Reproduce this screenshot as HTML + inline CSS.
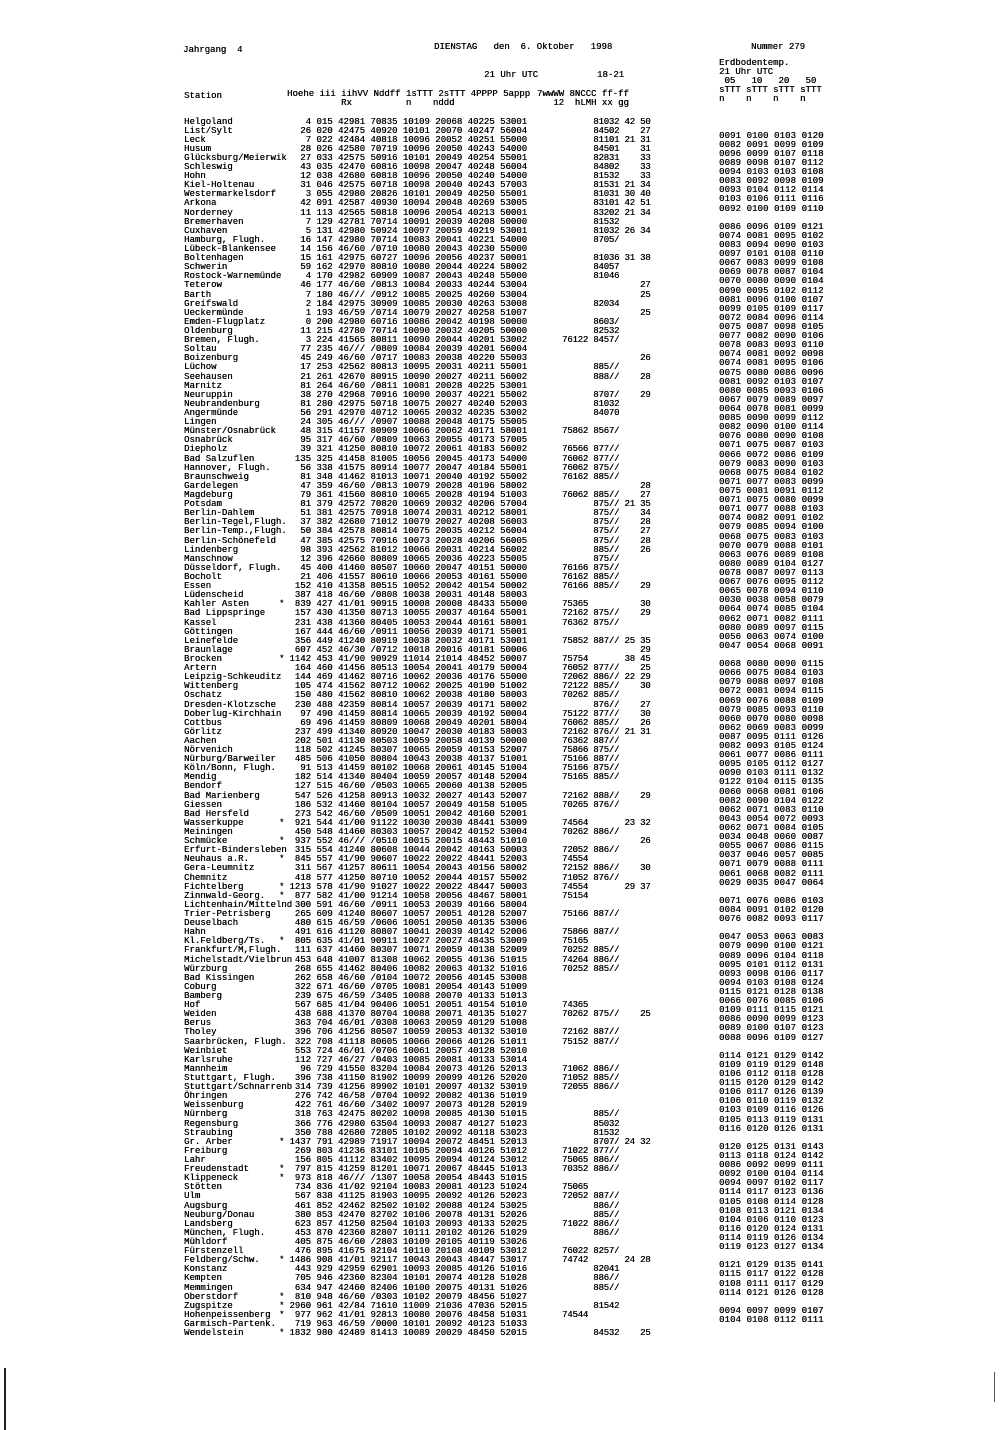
<!DOCTYPE html>
<html><head><meta charset="utf-8"><style>
html,body{margin:0;padding:0;background:#fff}
body{width:1000px;height:1430px;position:relative;overflow:hidden;font-family:"Liberation Mono",monospace;font-size:9px;color:#000;text-shadow:0.3px 0 0 #000}
.t{position:absolute;white-space:pre;line-height:9px}
#rows{position:absolute;left:0;top:117.5px;width:1000px}
.r{position:relative;height:9.12px;white-space:pre;line-height:9.12px}
.r span{position:absolute;top:0}
.s{left:184px}
.k{left:279px}
.n{right:473px}
.m{left:562px;letter-spacing:-0.2px}
.e{left:719px;top:-4px!important;letter-spacing:0.1px}
</style></head><body>
<div class="t" style="left:183px;top:46px">Jahrgang  4</div>
<div class="t" style="left:434px;top:43px">DIENSTAG   den  6. Oktober   1998</div>
<div class="t" style="left:751px;top:43px">Nummer 279</div>
<div class="t" style="left:719px;top:59px">Erdbodentemp.
21 Uhr UTC
 05   10   20   50
sTTT sTTT sTTT sTTT
n    n    n    n</div>
<div class="t" style="left:484px;top:71px">21 Uhr UTC</div>
<div class="t" style="left:597px;top:71px">18-21</div>
<div class="t" style="left:184px;top:92px">Station</div>
<div class="t" style="left:287px;top:90px">Hoehe iii iihVV Nddff 1sTTT 2sTTT 4PPPP 5appp
          Rx          n    nddd</div>
<div class="t" style="left:537px;top:90px">7wwWW 8NCCC ff-ff
   12  hLMH xx gg</div>
<div style="position:absolute;left:4px;top:1368px;width:2px;height:62px;background:#222"></div>
<div style="position:absolute;left:994px;top:1372px;width:1px;height:30px;background:#555"></div>
<div id="rows">
<div class="r"><span class="s">Helgoland</span><span class="n">4 015 42981 70835 10109 20068 40225 53001</span><span class="m">      81032 42 50</span></div>
<div class="r"><span class="s">List/Sylt</span><span class="n">26 020 42475 40920 10101 20070 40247 56004</span><span class="m">      84502    27</span></div>
<div class="r"><span class="s">Leck</span><span class="n">7 022 42484 40818 10096 20052 40251 55000</span><span class="m">      81101 21 31</span><span class="e">0091 0100 0103 0120</span></div>
<div class="r"><span class="s">Husum</span><span class="n">28 026 42580 70719 10096 20050 40243 54000</span><span class="m">      84501    31</span><span class="e">0082 0091 0099 0109</span></div>
<div class="r"><span class="s">Glücksburg/Meierwik</span><span class="n">27 033 42575 50916 10101 20049 40254 55001</span><span class="m">      82831    33</span><span class="e">0096 0099 0107 0118</span></div>
<div class="r"><span class="s">Schleswig</span><span class="n">43 035 42470 60816 10098 20047 40248 56004</span><span class="m">      84802    33</span><span class="e">0089 0098 0107 0112</span></div>
<div class="r"><span class="s">Hohn</span><span class="n">12 038 42680 60818 10096 20050 40240 54000</span><span class="m">      81532    33</span><span class="e">0094 0103 0103 0108</span></div>
<div class="r"><span class="s">Kiel-Holtenau</span><span class="n">31 046 42575 60718 10098 20040 40243 57003</span><span class="m">      81531 21 34</span><span class="e">0083 0092 0098 0109</span></div>
<div class="r"><span class="s">Westermarkelsdorf</span><span class="n">3 055 42980 20826 10101 20049 40250 55001</span><span class="m">      81031 30 40</span><span class="e">0093 0104 0112 0114</span></div>
<div class="r"><span class="s">Arkona</span><span class="n">42 091 42587 40930 10094 20048 40269 53005</span><span class="m">      83101 42 51</span><span class="e">0103 0106 0111 0116</span></div>
<div class="r"><span class="s">Norderney</span><span class="n">11 113 42565 50818 10096 20054 40213 50001</span><span class="m">      83202 21 34</span><span class="e">0092 0100 0109 0110</span></div>
<div class="r"><span class="s">Bremerhaven</span><span class="n">7 129 42781 70714 10091 20039 40208 50000</span><span class="m">      81532</span></div>
<div class="r"><span class="s">Cuxhaven</span><span class="n">5 131 42980 50924 10097 20059 40219 53001</span><span class="m">      81032 26 34</span><span class="e">0086 0096 0109 0121</span></div>
<div class="r"><span class="s">Hamburg, Flugh.</span><span class="n">16 147 42980 70714 10083 20041 40221 54000</span><span class="m">      8705/</span><span class="e">0074 0081 0095 0102</span></div>
<div class="r"><span class="s">Lübeck-Blankensee</span><span class="n">14 156 46/60 /0710 10080 20043 40230 55000</span><span class="e">0083 0094 0090 0103</span></div>
<div class="r"><span class="s">Boltenhagen</span><span class="n">15 161 42975 60727 10096 20056 40237 50001</span><span class="m">      81036 31 38</span><span class="e">0097 0101 0108 0110</span></div>
<div class="r"><span class="s">Schwerin</span><span class="n">59 162 42970 80810 10080 20044 40224 58002</span><span class="m">      84057</span><span class="e">0067 0083 0099 0108</span></div>
<div class="r"><span class="s">Rostock-Warnemünde</span><span class="n">4 170 42982 60909 10087 20043 40248 55000</span><span class="m">      81046</span><span class="e">0069 0078 0087 0104</span></div>
<div class="r"><span class="s">Teterow</span><span class="n">46 177 46/60 /0813 10084 20033 40244 53004</span><span class="m">               27</span><span class="e">0070 0080 0090 0104</span></div>
<div class="r"><span class="s">Barth</span><span class="n">7 180 46/// /0912 10085 20025 40260 53004</span><span class="m">               25</span><span class="e">0090 0095 0102 0112</span></div>
<div class="r"><span class="s">Greifswald</span><span class="n">2 184 42975 30909 10085 20030 40263 53008</span><span class="m">      82034</span><span class="e">0081 0096 0100 0107</span></div>
<div class="r"><span class="s">Ueckermünde</span><span class="n">1 193 46/59 /0714 10079 20027 40258 51007</span><span class="m">               25</span><span class="e">0099 0105 0109 0117</span></div>
<div class="r"><span class="s">Emden-Flugplatz</span><span class="n">0 200 42980 60716 10086 20042 40198 50000</span><span class="m">      8603/</span><span class="e">0072 0084 0096 0114</span></div>
<div class="r"><span class="s">Oldenburg</span><span class="n">11 215 42780 70714 10090 20032 40205 50000</span><span class="m">      82532</span><span class="e">0075 0087 0098 0105</span></div>
<div class="r"><span class="s">Bremen, Flugh.</span><span class="n">3 224 41565 80811 10090 20044 40201 53002</span><span class="m">76122 8457/</span><span class="e">0077 0082 0090 0106</span></div>
<div class="r"><span class="s">Soltau</span><span class="n">77 235 46/// /0809 10084 20039 40201 56004</span><span class="e">0078 0083 0093 0110</span></div>
<div class="r"><span class="s">Boizenburg</span><span class="n">45 249 46/60 /0717 10083 20038 40220 55003</span><span class="m">               26</span><span class="e">0074 0081 0092 0098</span></div>
<div class="r"><span class="s">Lüchow</span><span class="n">17 253 42562 80813 10095 20031 40211 55001</span><span class="m">      885//</span><span class="e">0074 0081 0095 0106</span></div>
<div class="r"><span class="s">Seehausen</span><span class="n">21 261 42670 80915 10090 20027 40211 56002</span><span class="m">      888//    28</span><span class="e">0075 0080 0086 0096</span></div>
<div class="r"><span class="s">Marnitz</span><span class="n">81 264 46/60 /0811 10081 20028 40225 53001</span><span class="e">0081 0092 0103 0107</span></div>
<div class="r"><span class="s">Neuruppin</span><span class="n">38 270 42968 70916 10090 20037 40221 55002</span><span class="m">      8707/    29</span><span class="e">0080 0085 0093 0106</span></div>
<div class="r"><span class="s">Neubrandenburg</span><span class="n">81 280 42975 50718 10075 20027 40240 52003</span><span class="m">      81032</span><span class="e">0067 0079 0089 0097</span></div>
<div class="r"><span class="s">Angermünde</span><span class="n">56 291 42970 40712 10065 20032 40235 53002</span><span class="m">      84070</span><span class="e">0064 0078 0081 0099</span></div>
<div class="r"><span class="s">Lingen</span><span class="n">24 305 46/// /0907 10088 20048 40175 55005</span><span class="e">0085 0090 0099 0112</span></div>
<div class="r"><span class="s">Münster/Osnabrück</span><span class="n">48 315 41157 80909 10066 20062 40171 58001</span><span class="m">75862 8567/</span><span class="e">0082 0090 0100 0114</span></div>
<div class="r"><span class="s">Osnabrück</span><span class="n">95 317 46/60 /0809 10063 20055 40173 57005</span><span class="e">0076 0080 0090 0108</span></div>
<div class="r"><span class="s">Diepholz</span><span class="n">39 321 41250 80810 10072 20061 40183 56002</span><span class="m">76566 877//</span><span class="e">0071 0075 0087 0103</span></div>
<div class="r"><span class="s">Bad Salzuflen</span><span class="n">135 325 41458 81005 10056 20045 40173 54000</span><span class="m">76062 877//</span><span class="e">0066 0072 0086 0109</span></div>
<div class="r"><span class="s">Hannover, Flugh.</span><span class="n">56 338 41575 80914 10077 20047 40184 55001</span><span class="m">76062 875//</span><span class="e">0079 0083 0090 0103</span></div>
<div class="r"><span class="s">Braunschweig</span><span class="n">81 348 41462 81013 10071 20040 40192 55002</span><span class="m">76162 885//</span><span class="e">0068 0075 0084 0102</span></div>
<div class="r"><span class="s">Gardelegen</span><span class="n">47 359 46/60 /0813 10079 20028 40196 58002</span><span class="m">               28</span><span class="e">0071 0077 0083 0099</span></div>
<div class="r"><span class="s">Magdeburg</span><span class="n">79 361 41560 80810 10065 20028 40194 51003</span><span class="m">76062 885//    27</span><span class="e">0075 0081 0091 0112</span></div>
<div class="r"><span class="s">Potsdam</span><span class="n">81 379 42572 70820 10069 20032 40206 57004</span><span class="m">      875// 21 35</span><span class="e">0071 0075 0080 0099</span></div>
<div class="r"><span class="s">Berlin-Dahlem</span><span class="n">51 381 42575 70918 10074 20031 40212 58001</span><span class="m">      875//    34</span><span class="e">0071 0077 0088 0103</span></div>
<div class="r"><span class="s">Berlin-Tegel,Flugh.</span><span class="n">37 382 42680 71012 10079 20027 40208 56003</span><span class="m">      875//    28</span><span class="e">0074 0082 0091 0102</span></div>
<div class="r"><span class="s">Berlin-Temp.,Flugh.</span><span class="n">50 384 42578 80814 10075 20035 40212 56004</span><span class="m">      875//    27</span><span class="e">0079 0085 0094 0100</span></div>
<div class="r"><span class="s">Berlin-Schönefeld</span><span class="n">47 385 42575 70916 10073 20028 40206 56005</span><span class="m">      875//    28</span><span class="e">0068 0075 0083 0103</span></div>
<div class="r"><span class="s">Lindenberg</span><span class="n">98 393 42562 81012 10066 20031 40214 56002</span><span class="m">      885//    26</span><span class="e">0070 0079 0088 0101</span></div>
<div class="r"><span class="s">Manschnow</span><span class="n">12 396 42660 80809 10065 20036 40223 55005</span><span class="m">      875//</span><span class="e">0063 0076 0089 0108</span></div>
<div class="r"><span class="s">Düsseldorf, Flugh.</span><span class="n">45 400 41460 80507 10060 20047 40151 50000</span><span class="m">76166 875//</span><span class="e">0080 0089 0104 0127</span></div>
<div class="r"><span class="s">Bocholt</span><span class="n">21 406 41557 80610 10066 20053 40161 55000</span><span class="m">76162 885//</span><span class="e">0078 0087 0097 0113</span></div>
<div class="r"><span class="s">Essen</span><span class="n">152 410 41358 80515 10052 20042 40154 50002</span><span class="m">76166 885//    29</span><span class="e">0067 0076 0095 0112</span></div>
<div class="r"><span class="s">Lüdenscheid</span><span class="n">387 418 46/60 /0808 10038 20031 40148 58003</span><span class="e">0065 0078 0094 0110</span></div>
<div class="r"><span class="s">Kahler Asten</span><span class="k">*</span><span class="n">839 427 41/01 90915 10008 20008 48433 55000</span><span class="m">75365          30</span><span class="e">0030 0038 0058 0079</span></div>
<div class="r"><span class="s">Bad Lippspringe</span><span class="n">157 430 41350 80713 10055 20037 40164 55001</span><span class="m">72162 875//    29</span><span class="e">0064 0074 0085 0104</span></div>
<div class="r"><span class="s">Kassel</span><span class="n">231 438 41360 80405 10053 20044 40161 58001</span><span class="m">76362 875//</span><span class="e">0062 0071 0082 0111</span></div>
<div class="r"><span class="s">Göttingen</span><span class="n">167 444 46/60 /0911 10056 20039 40171 55001</span><span class="e">0080 0089 0097 0115</span></div>
<div class="r"><span class="s">Leinefelde</span><span class="n">356 449 41240 80919 10038 20032 40171 53001</span><span class="m">75852 887// 25 35</span><span class="e">0056 0063 0074 0100</span></div>
<div class="r"><span class="s">Braunlage</span><span class="n">607 452 46/30 /0712 10018 20016 40181 50006</span><span class="m">               29</span><span class="e">0047 0054 0068 0091</span></div>
<div class="r"><span class="s">Brocken</span><span class="k">*</span><span class="n">1142 453 41/90 90929 11014 21014 48452 50007</span><span class="m">75754       38 45</span></div>
<div class="r"><span class="s">Artern</span><span class="n">164 460 41456 80513 10054 20041 40179 50004</span><span class="m">76052 877//    25</span><span class="e">0068 0080 0090 0115</span></div>
<div class="r"><span class="s">Leipzig-Schkeuditz</span><span class="n">144 469 41462 80716 10062 20036 40176 55000</span><span class="m">72062 886// 22 29</span><span class="e">0066 0075 0084 0103</span></div>
<div class="r"><span class="s">Wittenberg</span><span class="n">105 474 41562 80712 10062 20025 40190 51002</span><span class="m">72122 885//    30</span><span class="e">0079 0088 0097 0108</span></div>
<div class="r"><span class="s">Oschatz</span><span class="n">150 480 41562 80810 10062 20038 40180 58003</span><span class="m">70262 885//</span><span class="e">0072 0081 0094 0115</span></div>
<div class="r"><span class="s">Dresden-Klotzsche</span><span class="n">230 488 42359 80814 10057 20039 40171 58002</span><span class="m">      876//    27</span><span class="e">0069 0076 0088 0109</span></div>
<div class="r"><span class="s">Doberlug-Kirchhain</span><span class="n">97 490 41459 80814 10065 20039 40192 50004</span><span class="m">75122 877//    30</span><span class="e">0079 0085 0093 0110</span></div>
<div class="r"><span class="s">Cottbus</span><span class="n">69 496 41459 80809 10068 20049 40201 58004</span><span class="m">76062 885//    26</span><span class="e">0060 0070 0080 0098</span></div>
<div class="r"><span class="s">Görlitz</span><span class="n">237 499 41340 80920 10047 20030 40183 58003</span><span class="m">72162 876// 21 31</span><span class="e">0062 0069 0083 0099</span></div>
<div class="r"><span class="s">Aachen</span><span class="n">202 501 41130 80503 10059 20058 40139 50000</span><span class="m">76362 887//</span><span class="e">0087 0095 0111 0126</span></div>
<div class="r"><span class="s">Nörvenich</span><span class="n">118 502 41245 80307 10065 20059 40153 52007</span><span class="m">75866 875//</span><span class="e">0082 0093 0105 0124</span></div>
<div class="r"><span class="s">Nürburg/Barweiler</span><span class="n">485 506 41050 80804 10043 20038 40137 51001</span><span class="m">75166 887//</span><span class="e">0061 0077 0086 0111</span></div>
<div class="r"><span class="s">Köln/Bonn, Flugh.</span><span class="n">91 513 41459 80102 10068 20061 40145 51004</span><span class="m">75166 875//</span><span class="e">0095 0105 0112 0127</span></div>
<div class="r"><span class="s">Mendig</span><span class="n">182 514 41340 80404 10059 20057 40148 52004</span><span class="m">75165 885//</span><span class="e">0090 0103 0111 0132</span></div>
<div class="r"><span class="s">Bendorf</span><span class="n">127 515 46/60 /0503 10065 20060 40138 52005</span><span class="e">0122 0104 0115 0135</span></div>
<div class="r"><span class="s">Bad Marienberg</span><span class="n">547 526 41258 80913 10032 20027 40143 52007</span><span class="m">72162 888//    29</span><span class="e">0060 0068 0081 0106</span></div>
<div class="r"><span class="s">Giessen</span><span class="n">186 532 41460 80104 10057 20049 40158 51005</span><span class="m">70265 876//</span><span class="e">0082 0090 0104 0122</span></div>
<div class="r"><span class="s">Bad Hersfeld</span><span class="n">273 542 46/60 /0509 10051 20042 40160 52001</span><span class="e">0062 0071 0083 0110</span></div>
<div class="r"><span class="s">Wasserkuppe</span><span class="k">*</span><span class="n">921 544 41/00 91122 10030 20030 48441 53009</span><span class="m">74564       23 32</span><span class="e">0043 0054 0072 0093</span></div>
<div class="r"><span class="s">Meiningen</span><span class="n">450 548 41460 80303 10057 20042 40152 53004</span><span class="m">70262 886//</span><span class="e">0062 0071 0084 0105</span></div>
<div class="r"><span class="s">Schmücke</span><span class="k">*</span><span class="n">937 552 46/// /0510 10015 20015 48443 51010</span><span class="m">               26</span><span class="e">0034 0048 0060 0087</span></div>
<div class="r"><span class="s">Erfurt-Bindersleben</span><span class="n">315 554 41240 80608 10044 20042 40163 50003</span><span class="m">72052 886//</span><span class="e">0055 0067 0086 0115</span></div>
<div class="r"><span class="s">Neuhaus a.R.</span><span class="k">*</span><span class="n">845 557 41/90 90607 10022 20022 48441 52003</span><span class="m">74554</span><span class="e">0037 0046 0057 0085</span></div>
<div class="r"><span class="s">Gera-Leumnitz</span><span class="n">311 567 41257 80611 10054 20043 40156 58002</span><span class="m">72152 886//    30</span><span class="e">0071 0079 0088 0111</span></div>
<div class="r"><span class="s">Chemnitz</span><span class="n">418 577 41250 80710 10052 20044 40157 55002</span><span class="m">71052 876//</span><span class="e">0061 0068 0082 0111</span></div>
<div class="r"><span class="s">Fichtelberg</span><span class="k">*</span><span class="n">1213 578 41/90 91027 10022 20022 48447 50003</span><span class="m">74554       29 37</span><span class="e">0029 0035 0047 0064</span></div>
<div class="r"><span class="s">Zinnwald-Georg.</span><span class="k">*</span><span class="n">877 582 41/00 91214 10058 20056 48467 58001</span><span class="m">75154</span></div>
<div class="r"><span class="s">Lichtenhain/Mittelnd</span><span class="n">300 591 46/60 /0911 10053 20039 40166 58004</span><span class="e">0071 0076 0086 0103</span></div>
<div class="r"><span class="s">Trier-Petrisberg</span><span class="n">265 609 41240 80607 10057 20051 40128 52007</span><span class="m">75166 887//</span><span class="e">0084 0091 0102 0120</span></div>
<div class="r"><span class="s">Deuselbach</span><span class="n">480 615 46/59 /0606 10051 20050 40135 53006</span><span class="e">0076 0082 0093 0117</span></div>
<div class="r"><span class="s">Hahn</span><span class="n">491 616 41120 80807 10041 20039 40142 52006</span><span class="m">75866 887//</span></div>
<div class="r"><span class="s">Kl.Feldberg/Ts.</span><span class="k">*</span><span class="n">805 635 41/01 90911 10027 20027 48435 53009</span><span class="m">75165</span><span class="e">0047 0053 0063 0083</span></div>
<div class="r"><span class="s">Frankfurt/M,Flugh.</span><span class="n">111 637 41460 80307 10071 20059 40138 52009</span><span class="m">70252 885//</span><span class="e">0079 0090 0100 0121</span></div>
<div class="r"><span class="s">Michelstadt/Vielbrun</span><span class="n">453 648 41007 81308 10062 20055 40136 51015</span><span class="m">74264 886//</span><span class="e">0089 0096 0104 0118</span></div>
<div class="r"><span class="s">Würzburg</span><span class="n">268 655 41462 80406 10082 20063 40132 51016</span><span class="m">70252 885//</span><span class="e">0095 0101 0112 0131</span></div>
<div class="r"><span class="s">Bad Kissingen</span><span class="n">262 658 46/60 /0104 10072 20056 40145 53008</span><span class="e">0093 0098 0106 0117</span></div>
<div class="r"><span class="s">Coburg</span><span class="n">322 671 46/60 /0705 10081 20054 40143 51009</span><span class="e">0094 0103 0108 0124</span></div>
<div class="r"><span class="s">Bamberg</span><span class="n">239 675 46/59 /3405 10088 20070 40133 51013</span><span class="e">0115 0121 0128 0138</span></div>
<div class="r"><span class="s">Hof</span><span class="n">567 685 41/04 90406 10051 20051 40154 51010</span><span class="m">74365</span><span class="e">0066 0076 0085 0106</span></div>
<div class="r"><span class="s">Weiden</span><span class="n">438 688 41370 80704 10088 20071 40135 51027</span><span class="m">70262 875//    25</span><span class="e">0109 0111 0115 0121</span></div>
<div class="r"><span class="s">Berus</span><span class="n">363 704 46/01 /0308 10063 20059 40129 51008</span><span class="e">0086 0090 0099 0123</span></div>
<div class="r"><span class="s">Tholey</span><span class="n">396 706 41256 80507 10059 20053 40132 53010</span><span class="m">72162 887//</span><span class="e">0089 0100 0107 0123</span></div>
<div class="r"><span class="s">Saarbrücken, Flugh.</span><span class="n">322 708 41118 80605 10066 20066 40126 51011</span><span class="m">75152 887//</span><span class="e">0088 0096 0109 0127</span></div>
<div class="r"><span class="s">Weinbiet</span><span class="n">553 724 46/01 /0706 10061 20057 40128 52010</span></div>
<div class="r"><span class="s">Karlsruhe</span><span class="n">112 727 46/27 /0403 10085 20081 40133 53014</span><span class="e">0114 0121 0129 0142</span></div>
<div class="r"><span class="s">Mannheim</span><span class="n">96 729 41550 83204 10084 20073 40126 52013</span><span class="m">71062 886//</span><span class="e">0109 0119 0129 0148</span></div>
<div class="r"><span class="s">Stuttgart, Flugh.</span><span class="n">396 738 41150 81902 10099 20099 40126 52020</span><span class="m">71052 885//</span><span class="e">0106 0112 0118 0128</span></div>
<div class="r"><span class="s">Stuttgart/Schnarrenb</span><span class="n">314 739 41256 89902 10101 20097 40132 53019</span><span class="m">72055 886//</span><span class="e">0115 0120 0129 0142</span></div>
<div class="r"><span class="s">Öhringen</span><span class="n">276 742 46/58 /0704 10092 20082 40136 51019</span><span class="e">0106 0117 0126 0139</span></div>
<div class="r"><span class="s">Weissenburg</span><span class="n">422 761 46/60 /3402 10097 20073 40128 52019</span><span class="e">0106 0110 0119 0132</span></div>
<div class="r"><span class="s">Nürnberg</span><span class="n">318 763 42475 80202 10098 20085 40130 51015</span><span class="m">      885//</span><span class="e">0103 0109 0116 0126</span></div>
<div class="r"><span class="s">Regensburg</span><span class="n">366 776 42980 63504 10093 20087 40127 51023</span><span class="m">      85032</span><span class="e">0105 0113 0119 0131</span></div>
<div class="r"><span class="s">Straubing</span><span class="n">350 788 42680 72805 10102 20092 40118 53023</span><span class="m">      81532</span><span class="e">0116 0120 0126 0131</span></div>
<div class="r"><span class="s">Gr. Arber</span><span class="k">*</span><span class="n">1437 791 42989 71917 10094 20072 48451 52013</span><span class="m">      8707/ 24 32</span></div>
<div class="r"><span class="s">Freiburg</span><span class="n">269 803 41236 83101 10105 20094 40126 51012</span><span class="m">71022 877//</span><span class="e">0120 0125 0131 0143</span></div>
<div class="r"><span class="s">Lahr</span><span class="n">156 805 41112 83402 10095 20094 40124 53012</span><span class="m">75065 886//</span><span class="e">0113 0118 0124 0142</span></div>
<div class="r"><span class="s">Freudenstadt</span><span class="k">*</span><span class="n">797 815 41259 81201 10071 20067 48445 51013</span><span class="m">70352 886//</span><span class="e">0086 0092 0099 0111</span></div>
<div class="r"><span class="s">Klippeneck</span><span class="k">*</span><span class="n">973 818 46/// /1307 10058 20054 48443 51015</span><span class="e">0092 0100 0104 0114</span></div>
<div class="r"><span class="s">Stötten</span><span class="n">734 836 41/02 92104 10083 20081 40123 51024</span><span class="m">75065</span><span class="e">0094 0097 0102 0117</span></div>
<div class="r"><span class="s">Ulm</span><span class="n">567 838 41125 81903 10095 20092 40126 52023</span><span class="m">72052 887//</span><span class="e">0114 0117 0123 0136</span></div>
<div class="r"><span class="s">Augsburg</span><span class="n">461 852 42462 82502 10102 20088 40124 53025</span><span class="m">      886//</span><span class="e">0105 0108 0114 0128</span></div>
<div class="r"><span class="s">Neuburg/Donau</span><span class="n">380 853 42470 82702 10106 20078 40131 52026</span><span class="m">      885//</span><span class="e">0108 0113 0121 0134</span></div>
<div class="r"><span class="s">Landsberg</span><span class="n">623 857 41250 82504 10103 20093 40133 52025</span><span class="m">71022 886//</span><span class="e">0104 0106 0110 0123</span></div>
<div class="r"><span class="s">München, Flugh.</span><span class="n">453 870 42360 82807 10111 20102 40126 51029</span><span class="m">      886//</span><span class="e">0116 0120 0124 0131</span></div>
<div class="r"><span class="s">Mühldorf</span><span class="n">405 875 46/60 /2803 10109 20105 40119 53026</span><span class="e">0114 0119 0126 0134</span></div>
<div class="r"><span class="s">Fürstenzell</span><span class="n">476 895 41675 82104 10110 20108 40109 53012</span><span class="m">76022 8257/</span><span class="e">0119 0123 0127 0134</span></div>
<div class="r"><span class="s">Feldberg/Schw.</span><span class="k">*</span><span class="n">1486 908 41/01 92117 10043 20043 48447 53017</span><span class="m">74742       24 28</span></div>
<div class="r"><span class="s">Konstanz</span><span class="n">443 929 42959 62901 10093 20085 40126 51016</span><span class="m">      82041</span><span class="e">0121 0129 0135 0141</span></div>
<div class="r"><span class="s">Kempten</span><span class="n">705 946 42360 82304 10101 20074 40128 51028</span><span class="m">      886//</span><span class="e">0115 0117 0122 0128</span></div>
<div class="r"><span class="s">Memmingen</span><span class="n">634 947 42460 82406 10100 20075 40131 51026</span><span class="m">      885//</span><span class="e">0108 0111 0117 0129</span></div>
<div class="r"><span class="s">Oberstdorf</span><span class="k">*</span><span class="n">810 948 46/60 /0303 10102 20079 48456 51027</span><span class="e">0114 0121 0126 0128</span></div>
<div class="r"><span class="s">Zugspitze</span><span class="k">*</span><span class="n">2960 961 42/84 71610 11009 21036 47036 52015</span><span class="m">      81542</span></div>
<div class="r"><span class="s">Hohenpeissenberg</span><span class="k">*</span><span class="n">977 962 41/01 92813 10080 20076 48458 51031</span><span class="m">74544</span><span class="e">0094 0097 0099 0107</span></div>
<div class="r"><span class="s">Garmisch-Partenk.</span><span class="n">719 963 46/59 /0000 10101 20092 40123 51033</span><span class="e">0104 0108 0112 0111</span></div>
<div class="r"><span class="s">Wendelstein</span><span class="k">*</span><span class="n">1832 980 42489 81413 10089 20029 48450 52015</span><span class="m">      84532    25</span></div>
</div>
</body></html>
